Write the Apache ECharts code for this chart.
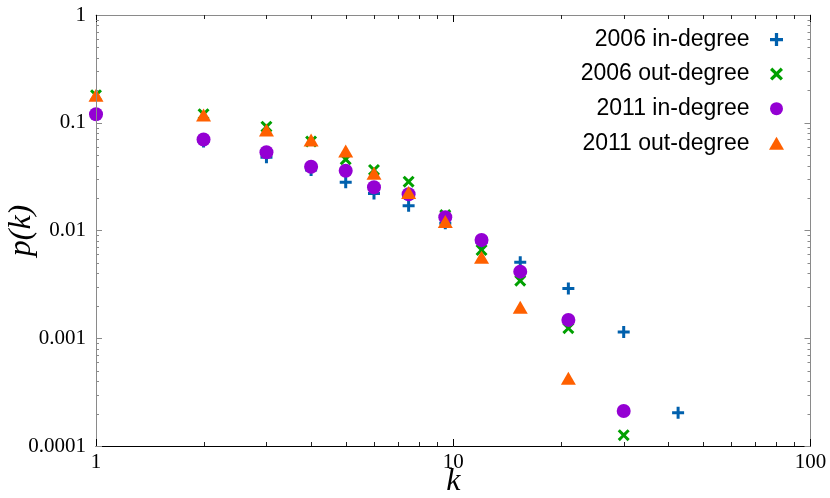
<!DOCTYPE html>
<html>
<head>
<meta charset="utf-8">
<script src="https://cdn.jsdelivr.net/npm/echarts@6/dist/echarts.min.js"></script>
<style>html,body{margin:0;padding:0;background:#fff;}#c{width:830px;height:498px;}</style>
</head>
<body>
<div id="c"></div>
<script>
// ---- data ----
const kValues = [1, 2, 3, 4, 5, 6, 7.5, 9.5, 12, 15.4, 21, 30, 42.6];
const in2006  = [0.12, 0.067, 0.0478, 0.0365, 0.028, 0.0221, 0.017, 0.0117, 0.0078, 0.00507, 0.0029, 0.00114, 0.000204];
const out2006 = [0.18, 0.12, 0.092, 0.067, 0.0458, 0.0365, 0.0284, 0.0139, 0.00659, 0.00342, 0.00124, 0.000126];
const in2011  = [0.12, 0.070, 0.0532, 0.039, 0.0359, 0.0252, 0.0217, 0.0133, 0.00817, 0.00415, 0.00148, 0.000211];
const out2011 = [0.18, 0.118, 0.0857, 0.069, 0.0547, 0.034, 0.0225, 0.0121, 0.00564, 0.00194, 0.000425];
const seriesNames = ['2006 in-degree', '2006 out-degree', '2011 in-degree', '2011 out-degree'];
const xTickLabels = ['1', '10', '100'];
const yTickLabels = ['0.0001', '0.001', '0.01', '0.1', '1'];
const xMinorTicks = [2,3,4,5,6,7,8,9,20,30,40,50,60,70,80,90];
const yMinorTicks = [];
[0.0001, 0.001, 0.01, 0.1].forEach(d => { for (let m = 2; m <= 9; m++) yMinorTicks.push(+(d * m).toPrecision(2)); });

// ---- styling ----
const XMIN = 1, XMAX = 100, YMIN = 0.0001, YMAX = 1;
const PLUS = 'path://M4.5,0H7.5V4.5H12V7.5H7.5V12H4.5V7.5H0V4.5H4.5Z';
const CROSS = 'path://M0,2.1L2.1,0L6,3.9L9.9,0L12,2.1L8.1,6L12,9.9L9.9,12L6,8.1L2.1,12L0,9.9L3.9,6Z';
const TRI = 'path://M7.5,0L15,13H0Z';
const colors = ['#0060ad', '#00a000', '#9400d3', '#ff6000'];
const symbols = [PLUS, CROSS, 'circle', TRI];
const sizes = [12, 12, 14, [15, 13]];
const dataSets = [in2006, out2006, in2011, out2011];
const serif = 'Liberation Serif';
const sans = 'Liberation Sans';
const grey = '#8a8a8a';

function pairs(vals) { return vals.map((v, i) => [kValues[i], v]); }

function tickSeries(points, dx, dy, color) {
  return {
    type: 'custom', coordinateSystem: 'cartesian2d', silent: true, z: 6, clip: false,
    renderItem: function (params, api) {
      const p = api.coord([api.value(0), api.value(1)]);
      let x = p[0], y = p[1];
      if (dx === 0) x = Math.round(x) + 0.5; else y = Math.round(y) + 0.5;
      return { type: 'line', shape: { x1: x, y1: y, x2: x + dx, y2: y + dy }, style: { stroke: color, lineWidth: 1 } };
    },
    data: points
  };
}

const series = dataSets.map((vals, i) => ({
  name: seriesNames[i], type: 'scatter', symbol: symbols[i], symbolSize: sizes[i],
  itemStyle: { color: colors[i], opacity: 1 }, data: pairs(vals), z: 2 + i * 0.01
}));
series.push(tickSeries(xMinorTicks.map(v => [v, YMIN]), 0, -4, '#222'));
series.push(tickSeries(xMinorTicks.map(v => [v, YMAX]), 0, 4, '#222'));
series.push(tickSeries(yMinorTicks.map(v => [XMIN, v]), 3, 0, grey));
series.push(tickSeries(yMinorTicks.map(v => [XMAX, v]), -3, 0, grey));

const chart = echarts.init(document.getElementById('c'), null, { renderer: 'canvas' });
chart.setOption({
  animation: false,
  backgroundColor: '#fff',
  grid: { left: 96, right: 19.5, top: 15, bottom: 52, containLabel: false, outerBoundsMode: 'none' },
  legend: {
    orient: 'vertical', right: 46, top: 28, padding: 0, align: 'right',
    itemWidth: 44, itemHeight: 13, itemGap: 11.6,
    textStyle: { fontFamily: sans, fontSize: 23, color: '#000', lineHeight: 22 },
    data: seriesNames.map((n, i) => ({ name: n, icon: symbols[i] }))
  },
  xAxis: [
    {
      type: 'log', logBase: 10, min: XMIN, max: XMAX, position: 'bottom', z: 5,
      name: 'k', nameLocation: 'middle', nameGap: 20, nameMoveOverlap: false,
      nameTextStyle: { fontFamily: serif, fontStyle: 'italic', fontSize: 32, color: '#000' },
      axisLine: { lineStyle: { color: '#000', width: 1 } },
      axisTick: { inside: true, length: 7, lineStyle: { color: '#000' } },
      axisLabel: { fontFamily: serif, fontSize: 21, color: '#000', margin: 6,
        formatter: (v) => xTickLabels[Math.round(Math.log10(v))] },
      splitLine: { show: false }
    },
    {
      type: 'log', logBase: 10, min: XMIN, max: XMAX, position: 'top', z: 5,
      axisLine: { lineStyle: { color: grey, width: 1 } },
      axisTick: { inside: true, length: 7, lineStyle: { color: '#000' } },
      axisLabel: { show: false }, splitLine: { show: false }
    }
  ],
  yAxis: [
    {
      type: 'log', logBase: 10, min: YMIN, max: YMAX, position: 'left', z: 5,
      name: 'p(k)', nameLocation: 'middle', nameGap: 58, nameRotate: 90, nameMoveOverlap: false,
      nameTextStyle: { fontFamily: serif, fontStyle: 'italic', fontSize: 32, color: '#000' },
      axisLine: { lineStyle: { color: grey, width: 1 } },
      axisTick: { inside: true, length: 6, lineStyle: { color: grey } },
      axisLabel: { fontFamily: serif, fontSize: 21, color: '#000', margin: 10,
        formatter: (v) => yTickLabels[Math.round(Math.log10(v)) + 4] },
      splitLine: { show: false }
    },
    {
      type: 'log', logBase: 10, min: YMIN, max: YMAX, position: 'right', z: 5,
      axisLine: { lineStyle: { color: grey, width: 1 } },
      axisTick: { inside: true, length: 6, lineStyle: { color: grey } },
      axisLabel: { show: false }, splitLine: { show: false }
    }
  ],
  series: series
});
</script>
</body>
</html>
